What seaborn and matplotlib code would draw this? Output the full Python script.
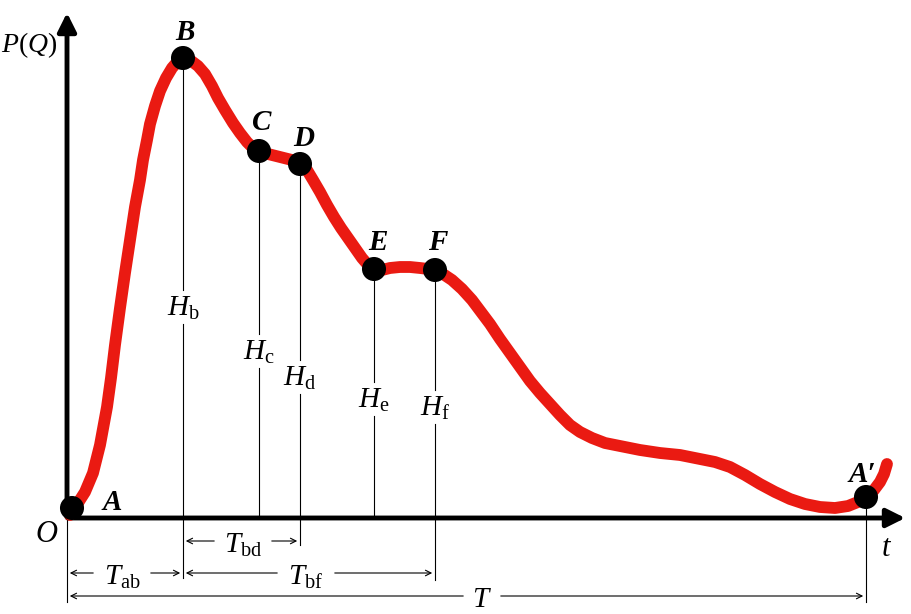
import matplotlib
matplotlib.use('Agg')
import matplotlib.pyplot as plt
import numpy as np
import pandas as pd
import seaborn as sns

# Curve (pixel coordinates, y grows downward)
curve_x = [70, 78, 85, 93, 100, 107, 111, 115, 120, 125, 130, 135, 140, 143, 147, 150,
           155, 160, 166, 172, 178, 183, 190, 198, 205, 212, 218, 225, 233, 240, 247,
           253, 259, 268, 276, 284, 292, 300, 307, 313, 320, 327, 334, 341, 348, 355,
           362, 368, 374, 382, 390, 400, 410, 420, 428, 435, 443, 452, 462, 472, 481,
           490, 500, 510, 520, 530, 540, 550, 560, 570, 580, 592, 605, 620, 640, 660,
           680, 700, 715, 730, 745, 760, 775, 790, 805, 820, 835, 848, 858, 866, 874,
           880, 884, 887]
curve_y = [515, 503, 492, 473, 445, 407, 378, 345, 308, 273, 240, 207, 180, 160, 140, 124,
           106, 91, 78, 68, 61, 58, 60, 66, 74, 86, 98, 110, 123, 133, 142,
           148, 151, 154, 156, 158, 160, 164, 170, 180, 192, 205, 217, 228, 238, 248,
           258, 265, 269, 270, 268, 267, 267, 268, 269, 270, 274, 280, 289, 300, 312,
           324, 339, 353, 367, 381, 393, 404, 415, 425, 432, 438, 443, 446, 450, 453,
           455, 459, 462, 467, 475, 484, 492, 499, 504, 507, 508, 506, 502, 497, 490,
           482, 474, 464]

# Marked points
pt_names = ['A', 'B', 'C', 'D', 'E', 'F', "A'"]
pt_x = [72, 183, 259, 300, 374, 435, 866]
pt_y = [508, 58, 151, 164, 269, 270, 497]

# Height lines: x, top, label y, bottom
h_labels = [r'$H_{\mathrm{b}}$', r'$H_{\mathrm{c}}$', r'$H_{\mathrm{d}}$', r'$H_{\mathrm{e}}$', r'$H_{\mathrm{f}}$']
h_x = [183, 259, 300, 374, 435]
h_top = [58, 151, 164, 269, 270]
h_label_y = [308, 352, 378, 400, 408]
h_bottom = [578, 518, 545, 518, 580]

# Time spans
span_labels = [r'$T_{\mathrm{bd}}$', r'$T_{\mathrm{ab}}$', r'$T_{\mathrm{bf}}$', r'$T$']
span_start = [183, 67, 183, 67]
span_end = [300, 183, 435, 866]
span_y = [541, 573, 573, 596]
span_label_x = [243, 122, 306, 482]

plt.rcParams['mathtext.fontset'] = 'custom'
plt.rcParams['mathtext.rm'] = 'Liberation Serif'
plt.rcParams['mathtext.it'] = 'Liberation Serif:italic'
plt.rcParams['font.family'] = ['Liberation Serif', 'DejaVu Serif']

fig = plt.figure(figsize=(9.12, 6.14), dpi=100)
ax = fig.add_axes([0, 0, 1, 1])

# thin vertical guide lines, broken around labels
for lab, x, top, ly, bot in zip(h_labels, h_x, h_top, h_label_y, h_bottom):
    ax.plot([x, x], [top, ly - 18], color='black', lw=0.8)
    ax.plot([x, x], [ly + 16, bot], color='black', lw=0.8)
    ax.text(x, ly, lab, fontsize=21, ha='center', va='center')

ax.plot([67, 67], [518, 602], color='black', lw=0.8)
ax.plot([866, 866], [497, 602], color='black', lw=0.8)

# dimension arrows
for lab, x0, x1, y, lx in zip(span_labels, span_start, span_end, span_y, span_label_x):
    gap = 26 if lab != r'$T$' else 16
    ax.annotate('', xy=(x0, y), xytext=(lx - gap, y),
                arrowprops=dict(arrowstyle='->', color='black', lw=0.8))
    ax.annotate('', xy=(x1, y), xytext=(lx + gap, y),
                arrowprops=dict(arrowstyle='->', color='black', lw=0.8))
    ax.text(lx, y + 4, lab, fontsize=21, ha='center', va='center')

# axes with arrowheads
ax.annotate('', xy=(67, 10), xytext=(67, 520),
            arrowprops=dict(arrowstyle='-|>', color='black', lw=3.5, mutation_scale=28))
ax.annotate('', xy=(908, 518), xytext=(65, 518),
            arrowprops=dict(arrowstyle='-|>', color='black', lw=3.5, mutation_scale=28))

# red curve
df = pd.DataFrame({'t': curve_x, 'p': curve_y})
sns.lineplot(data=df, x='t', y='p', sort=False, color='#ea1a12', lw=8.5,
             solid_capstyle='round', solid_joinstyle='round', ax=ax, zorder=3)

pts = pd.DataFrame({'name': pt_names, 'x': pt_x, 'y': pt_y})
sns.scatterplot(data=pts, x='x', y='y', color='black', s=300, edgecolor='none',
                ax=ax, zorder=4)
ax.set_xlim(0, 912)
ax.set_ylim(614, 0)
ax.axis('off')

# point labels
lab_pos = {'A': (112, 503), 'B': (185, 33), 'C': (262, 122), 'D': (304, 138),
           'E': (378, 243), 'F': (438, 243), "A'": (862, 474)}
for n in pt_names:
    lx, ly = lab_pos[n]
    ax.text(lx, ly, n.replace("'", '\u2032'), fontsize=21, fontweight='bold',
            style='italic', ha='center', va='center')

ax.text(29, 45, r'$P(Q)$', fontsize=20, ha='center', va='center')
ax.text(46, 535, 'O', fontsize=22, style='italic', ha='center', va='center')
ax.text(886, 548, 't', fontsize=22, style='italic', ha='center', va='center')

fig.savefig('out.png', dpi=100, facecolor='white')
